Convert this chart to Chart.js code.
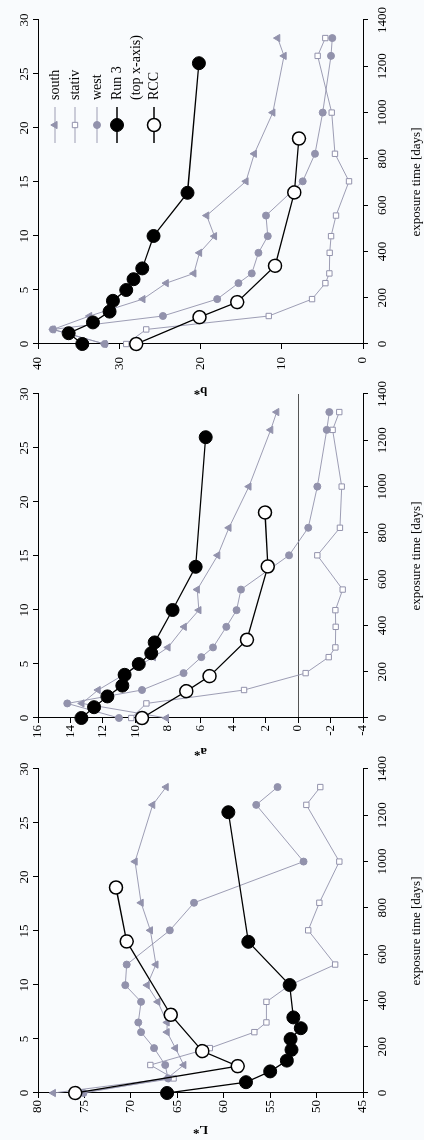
<!DOCTYPE html>
<html>
<head>
<meta charset="utf-8">
<script src="https://cdn.jsdelivr.net/npm/chart.js@4.4.1/dist/chart.umd.min.js"></script>
<style>
  html, body { margin: 0; padding: 0; overflow: hidden; background: #f9fbfd; }
  body { width: 424px; height: 1140px; position: relative; }
  /* the figure is drawn landscape and turned a quarter left */
  #fig { position: absolute; left: 0; top: 1140px; width: 1140px; height: 424px;
         transform-origin: 0 0; transform: rotate(-90deg); }
  #fig canvas { position: absolute; top: 0; }
</style>
</head>
<body>
<div id="fig">
  <canvas id="cL" width="398" height="424" style="left:-7px"></canvas>
  <canvas id="cA" width="398" height="424" style="left:368px"></canvas>
  <canvas id="cB" width="398" height="424" style="left:742px"></canvas>
</div>
<script>
// exposure days of the outdoor samples, RCC days, Run 3 on the top axis
var days = [0, 63, 121, 194, 263, 305, 394, 466, 555, 703, 822, 1000, 1245, 1322];
var rccDays = [0, 116, 181, 338, 655, 888];
var run3Time = [0, 1, 2, 3, 4, 5, 6, 7, 10, 14, 26];

// L*
var L_south = [78.35, 66.1, 64.3, 65.2, 66.1, 66.1, 67.1, 68.25, 67.3, 67.9, 68.9, 69.55, 67.65, 66.2];
var L_stativ = [75.8, 65.4, 67.9, 61.5, 56.7, 55.4, 55.4, 52.9, 48.0, 50.9, 49.7, 47.55, 51.1, 49.6];
var L_west = [75.1, 66.0, 66.3, 67.5, 68.9, 69.2, 68.9, 70.6, 70.45, 65.8, 63.2, 51.4, 56.5, 54.2];
var L_run3 = [66.1, 57.6, 55.0, 53.2, 52.7, 52.8, 51.7, 52.5, 52.9, 57.35, 59.5];
var L_rcc = [76.0, 58.5, 62.3, 65.7, 70.45, 71.6];

// a*
var a_south = [8.1, 13.3, 12.3, 10.56, 8.9, 8.0, 7.0, 6.1, 6.2, 4.94, 4.25, 3.02, 1.68, 1.31];
var a_stativ = [10.26, 9.33, 3.32, -0.47, -1.89, -2.3, -2.32, -2.3, -2.75, -1.19, -2.58, -2.69, -2.13, -2.54];
var a_west = [11.02, 14.2, 9.6, 7.04, 5.95, 5.23, 4.41, 3.78, 3.51, 0.55, -0.63, -1.19, -1.77, -1.93];
var a_run3 = [13.33, 12.55, 11.73, 10.81, 10.67, 9.8, 9.03, 8.82, 7.72, 6.3, 5.68];
var a_rcc = [9.6, 6.87, 5.44, 3.14, 1.86, 2.03];

// b*
var b_south = [31.8, 38.16, 33.65, 27.09, 24.22, 20.82, 20.12, 18.28, 19.24, 14.4, 13.38, 11.1, 9.72, 10.5];
var b_stativ = [29.14, 26.68, 11.6, 6.27, 4.63, 4.14, 4.1, 3.93, 3.32, 1.72, 3.45, 3.85, 5.58, 4.64];
var b_west = [31.8, 38.16, 24.63, 17.95, 15.33, 13.69, 12.87, 11.72, 11.94, 7.42, 5.91, 4.96, 3.94, 3.78];
var b_run3 = [34.55, 36.23, 33.24, 31.19, 30.78, 29.14, 28.24, 27.17, 25.78, 21.6, 20.2];
var b_rcc = [27.91, 20.12, 15.49, 10.82, 8.45, 7.88];

var dayTicks = [0, 1400, 200];
var topTicks = [0, 30, 5];

var grey = 'rgb(146,146,172)';
var greyLine = 'rgba(146,146,172,0.9)';
var serif = "'Liberation Serif', 'Times New Roman', serif";

function pts(xs, ys) {
  return xs.map(function (x, i) { return { x: x, y: ys[i] }; });
}

function plain(v) {
  return String(v);
}

function series(south, stativ, west, run3, rcc) {
  var base = { yAxisID: 'y', clip: false, fill: false, tension: 0 };
  return [
    Object.assign({ label: 'Run 3', data: pts(run3Time, run3), xAxisID: 'x2',
      borderColor: '#000', borderWidth: 1.3, pointStyle: 'circle', pointRadius: 6.5,
      pointBackgroundColor: '#000', pointBorderColor: '#000', pointBorderWidth: 1 }, base),
    Object.assign({ label: 'RCC', data: pts(rccDays, rcc), xAxisID: 'x',
      borderColor: '#000', borderWidth: 1.3, pointStyle: 'circle', pointRadius: 6.5,
      pointBackgroundColor: '#fff', pointBorderColor: '#000', pointBorderWidth: 1.5 }, base),
    Object.assign({ label: 'west', data: pts(days, west), xAxisID: 'x',
      borderColor: greyLine, borderWidth: 1, pointStyle: 'circle', pointRadius: 3.5,
      pointBackgroundColor: grey, pointBorderColor: grey, pointBorderWidth: 1 }, base),
    Object.assign({ label: 'stativ', data: pts(days, stativ), xAxisID: 'x',
      borderColor: greyLine, borderWidth: 1, pointStyle: 'rect', pointRadius: 3.8,
      pointBackgroundColor: '#fff', pointBorderColor: grey, pointBorderWidth: 1 }, base),
    Object.assign({ label: 'south', data: pts(days, south), xAxisID: 'x',
      borderColor: greyLine, borderWidth: 1, pointStyle: 'triangle', pointRadius: 4.2,
      pointBackgroundColor: grey, pointBorderColor: grey, pointBorderWidth: 1 }, base)
  ];
}

function drawMark(ctx, style, x, y, r, fill, stroke, bw) {
  ctx.beginPath();
  if (style === 'rect') {
    var s = r * Math.SQRT1_2;
    ctx.rect(x - s, y - s, 2 * s, 2 * s);
  } else if (style === 'triangle') {
    var rad = 0;
    for (var k = 0; k < 3; k++) {
      var px = x + Math.sin(rad) * r, py = y - Math.cos(rad) * r;
      if (k === 0) ctx.moveTo(px, py); else ctx.lineTo(px, py);
      rad += 2 * Math.PI / 3;
    }
    ctx.closePath();
  } else {
    ctx.arc(x, y, r, 0, Math.PI * 2);
  }
  ctx.fillStyle = fill;
  ctx.fill();
  ctx.lineWidth = bw;
  ctx.strokeStyle = stroke;
  ctx.stroke();
}

// legend in the corner of the b* panel
var legendPlugin = {
  id: 'cornerLegend',
  afterDraw: function (chart) {
    var ctx = chart.ctx;
    var rows = [
      { text: ['south'], y: 55, style: 'triangle', r: 4.2, fill: grey, stroke: grey, line: greyLine, bw: 1 },
      { text: ['stativ'], y: 75, style: 'rect', r: 3.8, fill: '#fff', stroke: grey, line: greyLine, bw: 1 },
      { text: ['west'], y: 97, style: 'circle', r: 3.5, fill: grey, stroke: grey, line: greyLine, bw: 1 },
      { text: ['Run 3', '(top x-axis)'], y: 117, style: 'circle', r: 6.5, fill: '#000', stroke: '#000', line: '#000', bw: 1 },
      { text: ['RCC'], y: 154, style: 'circle', r: 6.5, fill: '#fff', stroke: '#000', line: '#000', bw: 1.5 }
    ];
    ctx.save();
    ctx.font = '14px ' + serif;
    ctx.textBaseline = 'middle';
    ctx.textAlign = 'left';
    rows.forEach(function (row) {
      ctx.beginPath();
      ctx.moveTo(255, row.y);
      ctx.lineTo(291, row.y);
      ctx.lineWidth = row.line === '#000' ? 1.3 : 1;
      ctx.strokeStyle = row.line;
      ctx.stroke();
      drawMark(ctx, row.style, 273, row.y, row.r, row.fill, row.stroke, row.bw);
      ctx.fillStyle = '#000';
      row.text.forEach(function (t, j) {
        ctx.fillText(t, 298, row.y + j * 19.5);
      });
    });
    ctx.restore();
  }
};

function axisGrid() {
  return { drawOnChartArea: false, tickLength: 5, tickColor: '#000', color: '#000' };
}

function makePanel(id, ds, yMin, yMax, yStep, yTitle, titlePad, tickPad, zeroLine, extra) {
  var tickFont = { family: serif, size: 13 };
  return new Chart(document.getElementById(id), {
    type: 'line',
    data: { datasets: ds },
    options: {
      responsive: false,
      animation: false,
      devicePixelRatio: 1,
      events: [],
      layout: { padding: { left: 0, right: 20, top: 0, bottom: 0 } },
      plugins: { legend: { display: false }, tooltip: { enabled: false } },
      scales: {
        x: {
          type: 'linear', axis: 'x', position: 'bottom',
          min: dayTicks[0], max: dayTicks[1],
          ticks: { stepSize: dayTicks[2], padding: 7, color: '#000', font: tickFont, maxRotation: 0, autoSkip: false, callback: plain },
          grid: axisGrid(),
          border: { display: true, color: '#000', width: 1 },
          title: { display: true, text: 'exposure time [days]', color: '#000', font: tickFont, padding: { top: 0, bottom: 0 } },
          afterFit: function (s) { s.height = 61; }
        },
        x2: {
          type: 'linear', axis: 'x', position: 'top',
          min: topTicks[0], max: topTicks[1],
          ticks: { stepSize: topTicks[2], padding: 1, color: '#000', font: tickFont, maxRotation: 0, autoSkip: false, callback: plain },
          grid: axisGrid(),
          border: { display: true, color: '#000', width: 1 },
          afterFit: function (s) { s.height = 38; }
        },
        y: {
          type: 'linear', position: 'left',
          min: yMin, max: yMax,
          ticks: { stepSize: yStep, padding: tickPad, color: '#000', font: tickFont, autoSkip: false, callback: plain },
          grid: {
            drawOnChartArea: zeroLine,
            tickLength: 5,
            tickColor: '#000',
            lineWidth: 1,
            color: function (c) { return c.tick && c.tick.value === 0 ? '#555' : 'rgba(0,0,0,0)'; }
          },
          border: { display: true, color: '#000', width: 1 },
          title: { display: true, text: yTitle, color: '#000',
                   font: { family: serif, size: 13, weight: 'bold' }, padding: { top: titlePad, bottom: 0 } },
          afterFit: function (s) { s.width = 54; }
        }
      }
    },
    plugins: extra
  });
}

makePanel('cL', series(L_south, L_stativ, L_west, L_run3, L_rcc), 45, 80, 5, 'L*', 10, 2, false, []);
makePanel('cA', series(a_south, a_stativ, a_west, a_run3, a_rcc), -4, 16, 2, 'a*', 12.5, 2, true, []);
makePanel('cB', series(b_south, b_stativ, b_west, b_run3, b_rcc), 0, 40, 10, 'b*', 0, 8, false, [legendPlugin]);
</script>
</body>
</html>
